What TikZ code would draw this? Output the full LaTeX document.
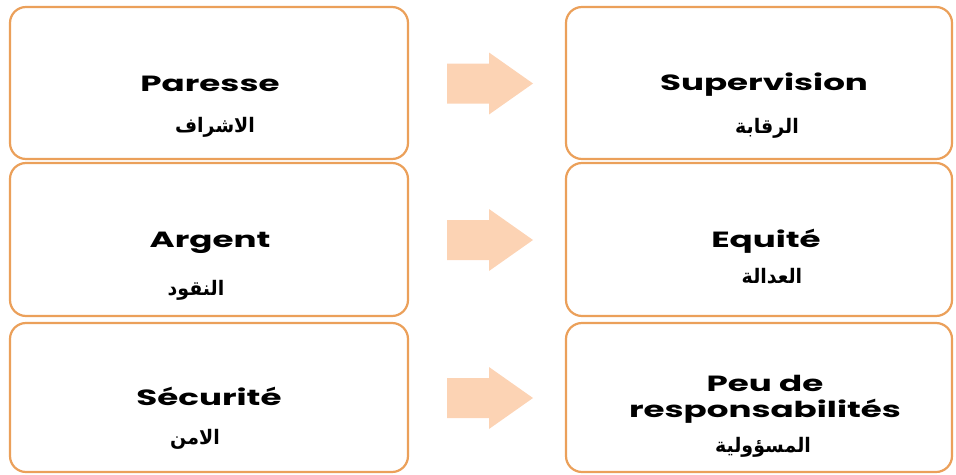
\documentclass[tikz,border=0pt]{standalone}
\usepackage{fontspec}
\usetikzlibrary{calc}
\TeXXeTstate=1
\newfontfamily\latfont[FakeStretch=1.55]{Poppins}
\newfontfamily\arabicfont[Script=Arabic,FakeStretch=0.95]{DejaVu Sans}
\definecolor{boxorange}{HTML}{EBA05A}
\definecolor{arrowpeach}{HTML}{FCD3B4}
\begin{document}
\begin{tikzpicture}[x=1pt,y=-1pt,
  card/.style={draw=boxorange,line width=2.2pt,fill=white,rounded corners=16pt,inner sep=0pt},
  lat/.style={font=\latfont\bfseries\fontsize{22}{24}\selectfont,anchor=base,inner sep=0pt,text=black},
  arb/.style={font=\arabicfont\bfseries\fontsize{20}{22}\selectfont,anchor=base,inner sep=0pt,text=black},
  blockarrow/.style={fill=arrowpeach,draw=none}]
\useasboundingbox (0,0) rectangle (956,474);
% boxes
\node[card,minimum width=398pt,minimum height=152pt] (l1) at (209,83) {};
\node[card,minimum width=398pt,minimum height=153pt] (l2) at (209,239.5) {};
\node[card,minimum width=398pt,minimum height=149pt] (l3) at (209,397.5) {};
\node[card,minimum width=386pt,minimum height=152pt] (r1) at (759,83) {};
\node[card,minimum width=386pt,minimum height=153pt] (r2) at (759,239.5) {};
\node[card,minimum width=386pt,minimum height=149pt] (r3) at (759,397.5) {};
% arrows
\foreach \r in {1,2,3}{
  \fill[blockarrow] ($(l\r.center)+(238,-19.5)$) -- ++(42,0) -- ++(0,-11) -- ++(44,31) -- ++(-44,31) -- ++(0,-11) -- ++(-42,0) -- cycle;
}
% texts
\node[lat] (t1) at (210,91) {Paresse};
\node[arb] (a1) at (215,132) {\beginR الاشراف\endR};
\node[lat] (t2) at (210,247) {Argent};
\node[arb] (a2) at (196,295) {\beginR النقود\endR};
\node[lat] (t3) at (209,405) {Sécurité};
\node[arb] (a3) at (195,444) {\beginR الامن\endR};
\node[lat] (u1) at (764,90) {Supervision};
\node[arb] (b1) at (767,133) {\beginR الرقابة\endR};
\node[lat] (u2) at (766,247) {Equité};
\node[arb] (b2) at (772,283) {\beginR العدالة\endR};
\node[lat] (u3) at (765,391) {Peu de};
\node[lat] (u3b) at (765,417) {responsabilités};
\node[arb] (b3) at (763,452) {\beginR المسؤولية\endR};
\end{tikzpicture}
\end{document}
